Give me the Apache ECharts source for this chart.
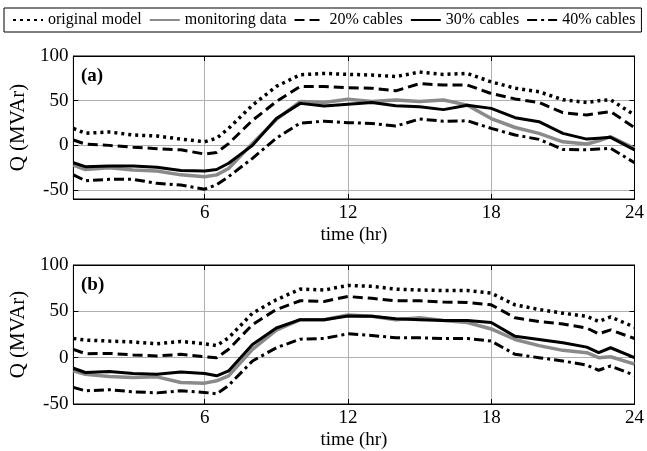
<!DOCTYPE html>
<html>
<head>
<meta charset="utf-8">
<script src="https://cdn.jsdelivr.net/npm/echarts@6/dist/echarts.min.js"></script>
<style>
html,body{margin:0;padding:0;background:#fff}
#chart{width:647px;height:451px}
</style>
</head>
<body>
<div id="chart"></div>
<script>
// time axis (hr)
var hours = [0.5, 1, 2, 3, 4, 5, 6, 6.5, 7, 8, 9, 10, 11, 12, 13, 14, 15, 16, 17, 18, 19, 20, 21, 22, 22.5, 23, 24];
var timeTicks = [6, 12, 18, 24];
var qTicks = [-50, 0, 50, 100];
var seriesNames = ['original model', 'monitoring data', '20% cables', '30% cables', '40% cables'];

// panel (a)
var origA = [19, 13.5, 15, 11.6, 10.5, 7, 4, 8, 19, 45, 66, 79, 80.5, 79.5, 78.7, 77, 82, 79.4, 80.5, 71, 64, 60, 51, 48, 50, 51, 34];
var monA  = [-22, -27, -25, -27.6, -28.7, -33, -35, -33, -25.8, 2.2, 29, 49, 48, 51.5, 49, 50.7, 49, 50.7, 45, 30, 20, 13.4, 4, 1.5, 5, 9.7, -3.3];
var c20A  = [6, 1.5, 0, -2, -3.7, -5, -9.7, -8, 2, 28, 49, 66, 66, 64.5, 64, 61, 69, 67.5, 67.5, 58, 52, 48, 36.6, 34, 36, 37.7, 20];
var c30A  = [-19.4, -23.8, -23, -23, -24.6, -28, -28.6, -27, -20, 0, 30, 47, 44, 46, 48, 44.4, 43.3, 40, 45, 41.4, 31, 26.5, 13.4, 7, 8, 9, -5];
var c40A  = [-33, -39.5, -38, -38, -42.5, -44.4, -49, -44, -35, -14.5, 8, 25, 27, 25.4, 24.6, 21.6, 29.5, 27, 27.5, 19, 11.6, 6.7, -4.5, -5, -4, -3.3, -19.4];

// panel (b)
var origB = [20.7, 19, 17.9, 17, 15, 17.5, 15, 13, 21.4, 48, 62.5, 74, 73, 78, 77, 74, 73, 72.5, 72.5, 69.6, 57, 52, 48, 44.6, 39, 44, 33];
var monB  = [-14.3, -18, -20.4, -21.4, -20.7, -26.8, -27.5, -25, -19.6, 9, 29.6, 41, 41, 46, 44.6, 41, 43, 40, 38, 31, 19.6, 13, 7.9, 5.4, 0, 1, -7];
var c20B  = [9, 4.3, 4.6, 3, 1.8, 3.6, 1, 0, 9, 35.7, 52, 61.4, 60.7, 66, 64, 61.4, 61.4, 60, 59.6, 57, 43, 39, 36.4, 32, 25.7, 30, 20.7];
var c30B  = [-11.4, -16, -15, -17, -18, -15.4, -17, -19.6, -14.3, 14.3, 32, 41, 41, 45, 44.6, 42, 41, 40, 40, 38, 23, 19.6, 16, 11.4, 5.4, 10.7, 0];
var c40B  = [-32, -35.7, -34.6, -36.8, -38, -35.7, -37.5, -39, -30, -3.6, 10.7, 20, 20.7, 25.7, 24, 21.4, 21.4, 20.7, 20.7, 17.9, 3.6, 0, -3.6, -8, -13.6, -9, -19];

var FONT = 'Liberation Serif';
var colors = ['#000', '#8a8a8a', '#000', '#000', '#000'];
var lineStyles = [
    {color: '#000', width: 3.5, type: [3, 4]},
    {color: '#8a8a8a', width: 3.5, type: 'solid'},
    {color: '#000', width: 3, type: [10, 5]},
    {color: '#000', width: 3, type: 'solid'},
    {color: '#000', width: 3, type: [10, 4, 3, 4]}
];

function pairs(vals) {
    return hours.map(function (h, i) { return [h, vals[i]]; });
}

var grids = [
    {left: 63, right: 9, top: 56, height: 143, show: true, borderColor: '#000', borderWidth: 1},
    {left: 63, right: 9, top: 265, height: 140, show: true, borderColor: '#000', borderWidth: 1}
];
var yMins = [-60, -50];
var xAxes = [], yAxes = [], series = [];

grids.forEach(function (g, gi) {
    // bottom x axis with labels
    xAxes.push({
        gridIndex: gi, type: 'value', min: 0.5, max: 24,
        name: 'time (hr)', nameLocation: 'middle', nameGap: 27,
        nameTextStyle: {fontFamily: FONT, fontSize: 19, color: '#000'},
        axisLine: {onZero: false, lineStyle: {color: '#000', width: 1}},
        axisTick: {inside: true, length: 5, customValues: timeTicks, lineStyle: {color: '#000'}},
        axisLabel: {customValues: timeTicks, margin: 5, fontFamily: FONT, fontSize: 19, color: '#000'},
        splitLine: {show: true, lineStyle: {color: '#b0b0b0', width: 1}}
    });
    // top x axis, ticks only
    xAxes.push({
        gridIndex: gi, type: 'value', min: 0.5, max: 24, position: 'top',
        axisLine: {onZero: false, lineStyle: {color: '#000'}},
        axisTick: {inside: true, length: 5, customValues: timeTicks, lineStyle: {color: '#000'}},
        axisLabel: {show: false},
        splitLine: {show: false}
    });
    yAxes.push({
        gridIndex: gi, type: 'value', min: yMins[gi], max: 100,
        name: 'Q (MVAr)', nameLocation: 'middle', nameGap: 42, nameRotate: 90,
        nameTextStyle: {fontFamily: FONT, fontSize: 21, color: '#000'},
        axisLine: {show: true, onZero: false, lineStyle: {color: '#000', width: 1}},
        axisTick: {show: true, inside: true, length: 5, customValues: qTicks, lineStyle: {color: '#000'}},
        axisLabel: {customValues: qTicks, showMinLabel: true, showMaxLabel: true, hideOverlap: false,
            margin: 5, fontFamily: FONT, fontSize: 19, color: '#000'},
        splitLine: {show: true, lineStyle: {color: '#b0b0b0', width: 1}}
    });
    yAxes.push({
        gridIndex: gi, type: 'value', min: yMins[gi], max: 100, position: 'right',
        axisLine: {show: true, onZero: false, lineStyle: {color: '#000'}},
        axisTick: {show: true, inside: true, length: 5, customValues: qTicks, lineStyle: {color: '#000'}},
        axisLabel: {show: false},
        splitLine: {show: false}
    });
});

var panelData = [
    [origA, monA, c20A, c30A, c40A],
    [origB, monB, c20B, c30B, c40B]
];
panelData.forEach(function (sets, gi) {
    sets.forEach(function (vals, si) {
        series.push({
            name: seriesNames[si],
            type: 'line',
            xAxisIndex: gi * 2,
            yAxisIndex: gi * 2,
            symbol: 'none',
            color: colors[si],
            animation: false,
            lineStyle: lineStyles[si],
            data: pairs(vals)
        });
    });
});

var chart = echarts.init(document.getElementById('chart'));
chart.setOption({
    backgroundColor: '#fff',
    animation: false,
    title: [
        {text: '(a)', left: 76, top: 62, textStyle: {fontFamily: FONT, fontSize: 19, fontWeight: 'bold', color: '#000'}},
        {text: '(b)', left: 76, top: 271, textStyle: {fontFamily: FONT, fontSize: 19, fontWeight: 'bold', color: '#000'}}
    ],
    legend: {
        data: seriesNames,
        left: 4, top: 8,
        width: 660,
        padding: [4, 6, 4, 8],
        itemGap: 7,
        itemWidth: 30,
        itemHeight: 14,
        borderColor: '#000',
        borderWidth: 1,
        borderRadius: 0,
        itemStyle: {opacity: 0},
        textStyle: {fontFamily: FONT, fontSize: 16, color: '#000'}
    },
    grid: grids,
    xAxis: xAxes,
    yAxis: yAxes,
    series: series
});
</script>
</body>
</html>
